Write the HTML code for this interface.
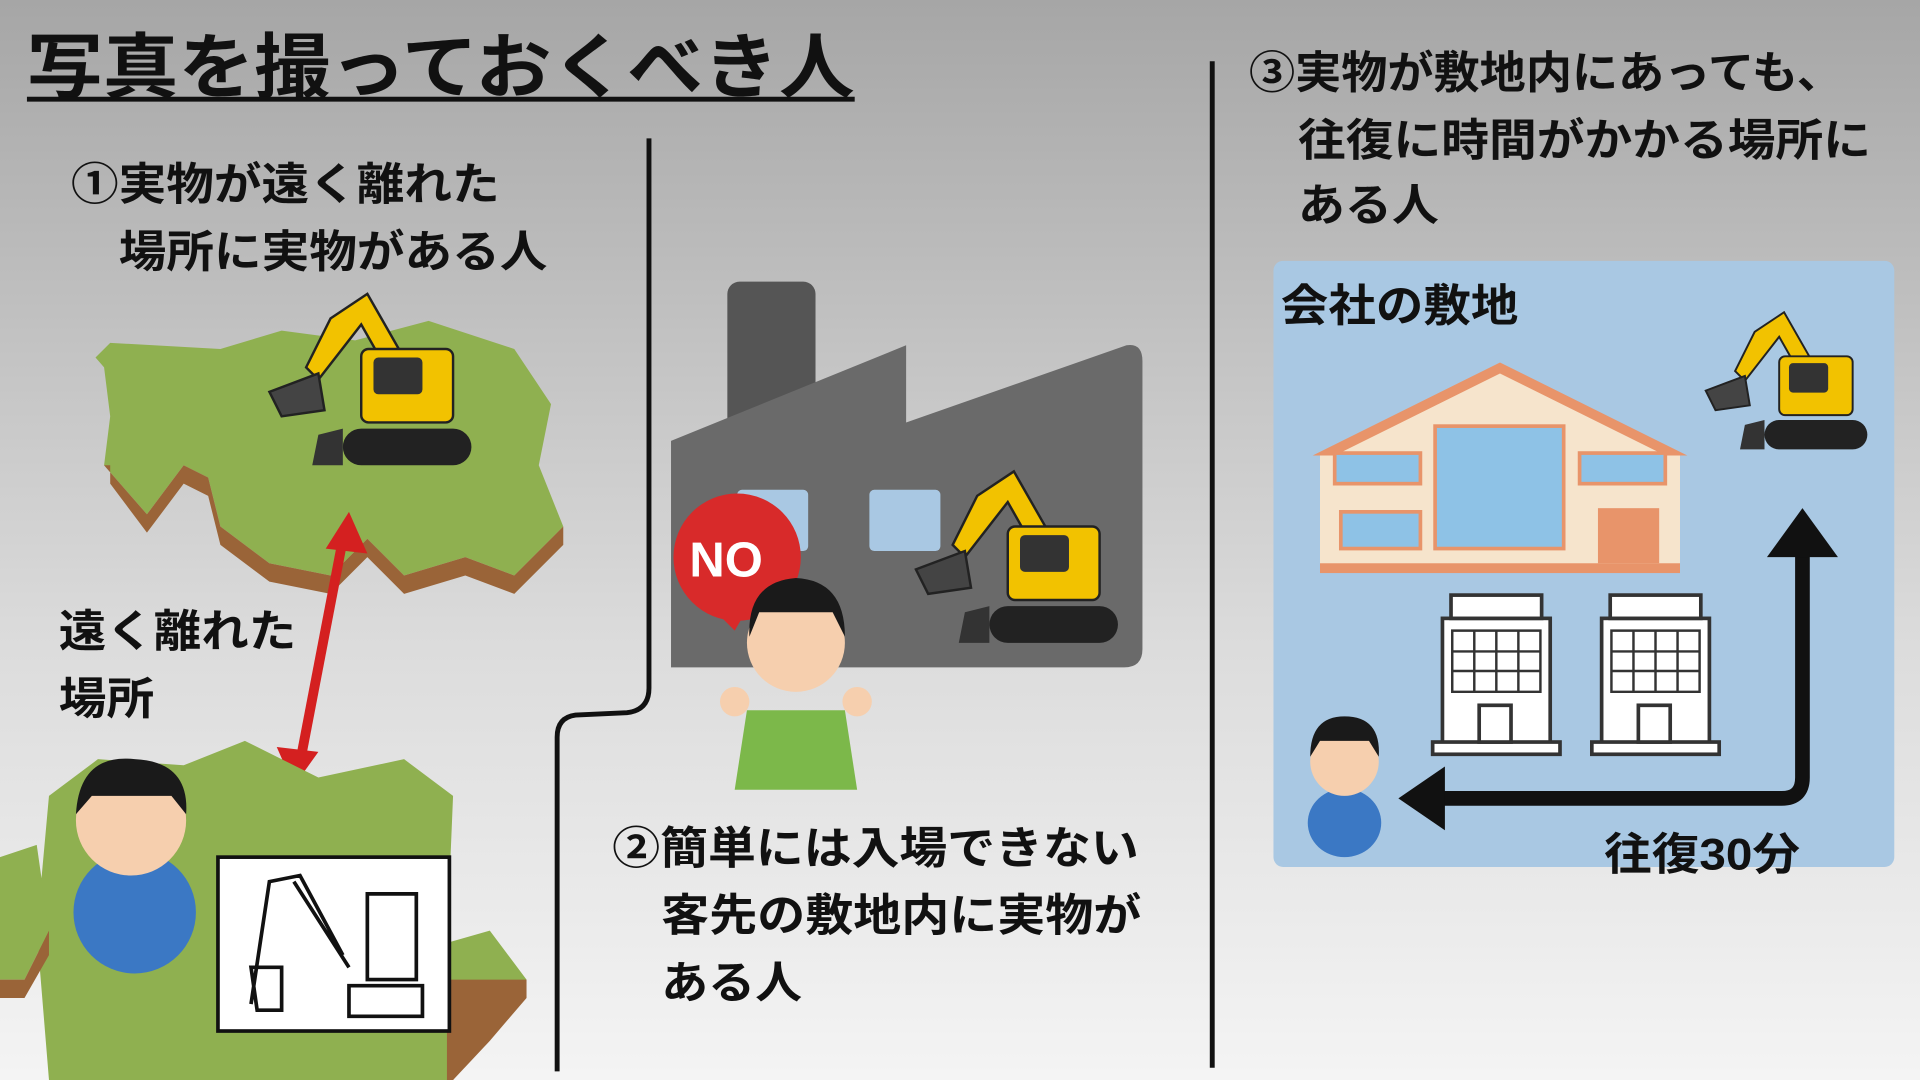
<!DOCTYPE html>
<html><head><meta charset="utf-8"><style>
html,body{margin:0;padding:0;width:1920px;height:1080px;overflow:hidden}
svg{display:block}
text{font-family:"Liberation Sans","Noto Sans CJK JP",sans-serif;font-weight:bold;fill:#111}
</style></head><body>
<svg width="1920" height="1080" viewBox="0 0 1568 882" xmlns="http://www.w3.org/2000/svg">
<defs>
<linearGradient id="bg" x1="0" y1="0" x2="0" y2="1">
<stop offset="0" stop-color="#a6a6a6"/><stop offset="0.6" stop-color="#dcdcdc"/><stop offset="1" stop-color="#f4f4f4"/></linearGradient>
<g id="exc">
<path d="M60,20 L90,0 L130,70 L115,78 L85,25 L50,70 L40,60Z" fill="#f2c200" stroke="#222" stroke-width="2"/>
<path d="M10,80 L50,65 L55,95 L20,100Z" fill="#444" stroke="#222" stroke-width="2"/>
<rect x="85" y="45" width="75" height="60" rx="6" fill="#f2c200" stroke="#222" stroke-width="2"/>
<rect x="95" y="52" width="40" height="30" rx="4" fill="#333"/>
<rect x="70" y="110" width="105" height="30" rx="15" fill="#222"/>
<path d="M50,115 L70,110 L70,140 L45,140Z" fill="#333"/>
</g>
</defs>
<rect width="1568" height="882" fill="url(#bg)"/>
<text x="22" y="75" font-size="58" textLength="676" lengthAdjust="spacingAndGlyphs">写真を撮っておくべき人</text>
<rect x="22" y="79" width="676" height="4" fill="#111"/>

<text x="58" y="163" font-size="36" textLength="350" lengthAdjust="spacingAndGlyphs">①実物が遠く離れた</text>
<text x="97" y="218" font-size="36" textLength="350" lengthAdjust="spacingAndGlyphs">場所に実物がある人</text>
<path d="M85,300 L78,292 L90,280 L180,285 L230,270 L290,278 L350,262 L420,285 L450,330 L440,380 L460,430 L420,470 L380,455 L330,470 L300,440 L270,470 L220,460 L180,430 L170,390 L150,380 L120,420 L85,380 L90,340Z" fill="#8fb050"/>
<path d="M90,380 L90,395 L120,435 L150,395 L170,405 L180,445 L220,475 L270,485 L300,455 L330,485 L380,470 L420,485 L460,445 L460,430 L420,470 L380,455 L330,470 L300,440 L270,470 L220,460 L180,430 L170,390 L150,380 L120,420 L85,380Z" fill="#9a6438"/>
<use href="#exc" transform="translate(210,240)"/>
<line x1="282" y1="430" x2="244" y2="628" stroke="#d42020" stroke-width="8"/>
<polygon points="285,418 266,448 300,452" fill="#d42020"/>
<polygon points="240,642 226,610 260,614" fill="#d42020"/>
<text x="48" y="528" font-size="36" textLength="194" lengthAdjust="spacingAndGlyphs">遠く離れた</text>
<text x="48" y="583" font-size="36" textLength="78" lengthAdjust="spacingAndGlyphs">場所</text>
<path d="M40,650 L80,620 L150,625 L200,605 L260,635 L330,620 L370,650 L365,770 L400,760 L430,800 L400,840 L370,882 L40,882 L30,760Z" fill="#8fb050"/>
<path d="M0,700 L30,690 L40,760 L20,800 L0,800Z" fill="#8fb050"/>
<path d="M0,800 L20,800 L40,760 L40,780 L20,815 L0,815Z" fill="#9a6438"/>
<path d="M365,800 L430,800 L430,815 L400,850 L370,882 L365,882Z" fill="#9a6438"/>
<ellipse cx="110" cy="745" rx="50" ry="50" fill="#3b78c4"/>
<circle cx="107" cy="670" r="45" fill="#f6cfae"/>
<path d="M62,665 Q65,615 110,620 Q155,622 152,665 L140,650 L75,650Z" fill="#1a1a1a"/>
<rect x="178" y="700" width="189" height="142" fill="#fff" stroke="#111" stroke-width="3"/>
<path d="M205,820 L220,720 L245,715 L280,780 M240,720 L285,790 M300,730 L340,730 L340,800 L300,800Z M285,805 L345,805 L345,830 L285,830Z M205,790 L230,790 L230,825 L210,825Z" fill="none" stroke="#111" stroke-width="3"/>

<path d="M530,113 L530,562 Q530,580 512,582 L470,584 Q455,586 455,602 L455,875" fill="none" stroke="#111" stroke-width="4"/>
<line x1="990" y1="50" x2="990" y2="872" stroke="#111" stroke-width="4"/>

<rect x="594" y="230" width="72" height="130" rx="10" fill="#555"/>
<path d="M548,545 L548,360 L740,282 L740,345 L920,282 Q933,280 933,295 L933,530 Q933,545 918,545Z" fill="#6a6a6a"/>
<rect x="602" y="400" width="58" height="50" rx="4" fill="#a9c8e3"/>
<rect x="710" y="400" width="58" height="50" rx="4" fill="#a9c8e3"/>
<use href="#exc" transform="translate(738,385)"/>
<circle cx="602" cy="455" r="52" fill="#d82a2a"/>
<polygon points="585,500 600,515 610,498" fill="#d82a2a"/>
<text x="563" y="471" font-size="40" style="fill:#fff">NO</text>
<path d="M600,645 L610,580 L690,580 L700,645Z" fill="#7cb84a"/>
<circle cx="650" cy="525" r="40" fill="#f6cfae"/>
<path d="M612,520 Q610,475 650,472 Q690,474 690,520 L680,500 L620,500Z" fill="#1a1a1a"/>
<circle cx="600" cy="573" r="12" fill="#f6cfae"/><circle cx="700" cy="573" r="12" fill="#f6cfae"/>
<text x="500" y="705" font-size="36" textLength="430" lengthAdjust="spacingAndGlyphs">②簡単には入場できない</text>
<text x="540" y="760" font-size="36" textLength="392" lengthAdjust="spacingAndGlyphs">客先の敷地内に実物が</text>
<text x="540" y="815" font-size="36" textLength="115" lengthAdjust="spacingAndGlyphs">ある人</text>

<text x="1020" y="72" font-size="36" textLength="485" lengthAdjust="spacingAndGlyphs">③実物が敷地内にあっても、</text>
<text x="1060" y="127" font-size="36" textLength="468" lengthAdjust="spacingAndGlyphs">往復に時間がかかる場所に</text>
<text x="1060" y="180" font-size="36" textLength="115" lengthAdjust="spacingAndGlyphs">ある人</text>
<rect x="1040" y="213" width="507" height="495" rx="8" fill="#a9c8e3"/>
<text x="1046" y="262" font-size="36" textLength="194" lengthAdjust="spacingAndGlyphs">会社の敷地</text>
<polygon points="1072,372 1225,296 1378,372" fill="#e8946a"/>
<polygon points="1090,372 1225,305 1360,372" fill="#f6e4cc"/>
<rect x="1078" y="372" width="294" height="95" fill="#f6e4cc"/>
<rect x="1078" y="460" width="294" height="8" fill="#e8946a"/>
<rect x="1172" y="348" width="105" height="100" fill="#8ec2e6" stroke="#e8946a" stroke-width="3"/>
<rect x="1090" y="370" width="70" height="25" fill="#8ec2e6" stroke="#e8946a" stroke-width="3"/>
<rect x="1290" y="370" width="70" height="25" fill="#8ec2e6" stroke="#e8946a" stroke-width="3"/>
<rect x="1095" y="418" width="65" height="30" fill="#8ec2e6" stroke="#e8946a" stroke-width="3"/>
<rect x="1305" y="415" width="50" height="45" fill="#e8946a"/>
<g fill="#fff" stroke="#333" stroke-width="3">
<rect x="1178" y="505" width="88" height="105"/><rect x="1185" y="486" width="74" height="19"/><rect x="1170" y="606" width="104" height="10"/>
<rect x="1308" y="505" width="88" height="105"/><rect x="1315" y="486" width="74" height="19"/><rect x="1300" y="606" width="104" height="10"/>
<rect x="1208" y="576" width="26" height="30"/><rect x="1338" y="576" width="26" height="30"/>
</g>
<g fill="none" stroke="#333" stroke-width="2">
<path d="M1186,515h72v50h-72z M1186,532h72 M1186,548h72 M1204,515v50 M1222,515v50 M1240,515v50"/>
<path d="M1316,515h72v50h-72z M1316,532h72 M1316,548h72 M1334,515v50 M1352,515v50 M1370,515v50"/>
</g>
<use href="#exc" transform="translate(1385,255) scale(0.8)"/>
<path d="M1472,450 L1472,635 Q1472,652 1455,652 L1175,652" fill="none" stroke="#111" stroke-width="12"/>
<polygon points="1443,455 1472,415 1501,455" fill="#111"/>
<polygon points="1180,626 1142,652 1180,678" fill="#111"/>
<ellipse cx="1098" cy="672" rx="30" ry="28" fill="#3b78c4"/>
<circle cx="1098" cy="622" r="28" fill="#f6cfae"/>
<path d="M1070,618 Q1070,585 1098,585 Q1128,585 1126,618 L1118,605 L1078,605Z" fill="#1a1a1a"/>
<text x="1310" y="710" font-size="36" textLength="160" lengthAdjust="spacingAndGlyphs">往復30分</text>
</svg>
</body></html>
